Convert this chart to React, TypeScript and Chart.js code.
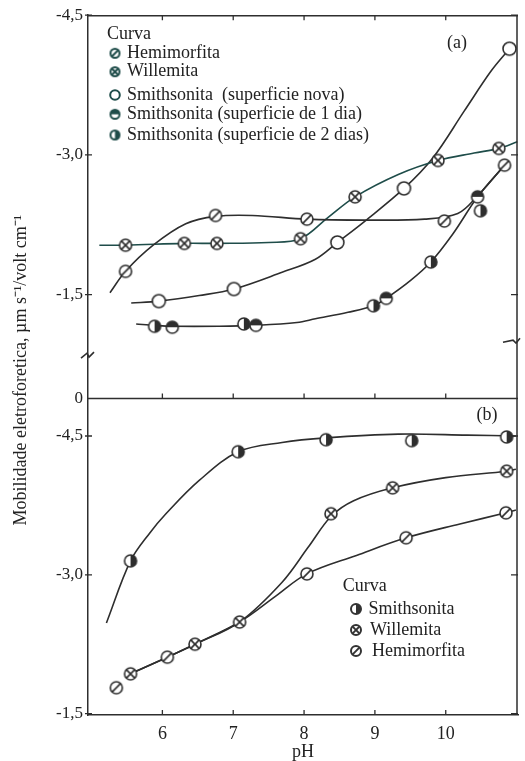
import React, { useEffect, useRef } from 'react';
import { Chart, registerables } from 'chart.js';
Chart.register(...registerables);

const FONT = '"Liberation Serif", "Times New Roman", serif';
const INK = '#222222';
const LINE = '#2e2e2e';
const TEAL = '#1f4d4a';

// ---- axes ----
const X_MIN = 4.95;
const X_MAX = 11.02;
const X_TICKS = [6, 7, 8, 9, 10];
const YA_MIN = -4.5;
const YA_MAX = -0.384; // bottom of broken panel (a), labelled "0"
const YA_TICKS = [-4.5, -3.0, -1.5];
const YB_MIN = -4.905;
const YB_MAX = -1.485;
const YB_TICKS = [-4.5, -3.0, -1.5];

// ---- panel (a) measured points ----
const aHemiPH = [5.48, 6.75, 8.04, 9.98, 10.83];
const aHemiMob = [-1.75, -2.35, -2.31, -2.29, -2.89];
const aWillPH = [5.48, 6.31, 6.77, 7.95, 8.72, 9.89, 10.75];
const aWillMob = [-2.03, -2.05, -2.05, -2.10, -2.55, -2.94, -3.07];
const aNovaPH = [5.95, 7.01, 8.47, 9.41, 10.9];
const aNovaMob = [-1.43, -1.56, -2.06, -2.64, -4.14];
const a1DiaPH = [6.14, 7.32, 9.16, 10.45];
const a1DiaMob = [-1.15, -1.17, -1.46, -2.55];
const a2DiasPH = [5.89, 7.15, 8.98, 9.79, 10.49];
const a2DiasMob = [-1.16, -1.185, -1.38, -1.85, -2.40];

// ---- panel (a) drawn curves ----
const aHemiCurvePH = [5.26, 5.48, 5.87, 6.33, 6.75, 7.27, 8.04, 8.86, 9.7, 10.17, 10.45, 10.83];
const aHemiCurveMob = [-1.52, -1.75, -2.03, -2.26, -2.34, -2.35, -2.31, -2.30, -2.31, -2.37, -2.56, -2.89];
const aWillCurvePH = [5.11, 5.48, 6.31, 6.77, 7.5, 7.95, 8.34, 8.72, 9.33, 9.89, 10.4, 10.75, 11.01];
const aWillCurveMob = [-2.03, -2.03, -2.05, -2.05, -2.06, -2.10, -2.33, -2.55, -2.79, -2.94, -3.02, -3.07, -3.14];
const aNovaCurvePH = [5.56, 5.95, 6.52, 7.01, 7.69, 8.16, 8.47, 8.86, 9.41, 9.82, 10.26, 10.64, 10.9];
const aNovaCurveMob = [-1.41, -1.43, -1.49, -1.56, -1.74, -1.88, -2.06, -2.29, -2.64, -2.97, -3.47, -3.90, -4.14];
const aAgedCurvePH = [5.63, 5.89, 6.14, 6.8, 7.32, 7.9, 8.16, 8.62, 8.98, 9.16, 9.5, 9.79, 10.1, 10.45, 10.83];
const aAgedCurveMob = [-1.185, -1.17, -1.16, -1.16, -1.17, -1.20, -1.24, -1.31, -1.38, -1.46, -1.65, -1.85, -2.15, -2.55, -2.89];

// ---- panel (b) measured points ----
const bSmithPH = [5.55, 7.07, 8.31, 9.52, 10.86];
const bSmithMob = [-3.15, -4.33, -4.46, -4.45, -4.49];
const bWillPH = [5.55, 6.46, 7.09, 8.38, 9.25, 10.86];
const bWillMob = [-1.93, -2.25, -2.49, -3.66, -3.94, -4.12];
const bHemiPH = [5.35, 6.07, 8.04, 9.44, 10.85];
const bHemiMob = [-1.78, -2.11, -3.01, -3.40, -3.67];

// ---- panel (b) drawn curves ----
const bSmithCurvePH = [5.21, 5.55, 5.82, 6.05, 6.52, 7.07, 7.69, 8.31, 9.33, 10.3, 10.99];
const bSmithCurveMob = [-2.48, -3.15, -3.45, -3.66, -4.02, -4.33, -4.43, -4.48, -4.52, -4.51, -4.50];
const bWillCurvePH = [5.55, 6.07, 6.46, 7.09, 7.69, 8.06, 8.38, 8.7, 9.25, 10.0, 10.86, 10.99];
const bWillCurveMob = [-1.93, -2.11, -2.25, -2.49, -2.92, -3.30, -3.63, -3.80, -3.94, -4.05, -4.12, -4.14];
const bHemiCurvePH = [5.55, 6.07, 6.46, 7.09, 7.6, 8.04, 8.74, 9.44, 10.2, 10.85, 10.99];
const bHemiCurveMob = [-1.93, -2.11, -2.25, -2.49, -2.77, -3.01, -3.21, -3.40, -3.55, -3.67, -3.70];

// ---- texts ----
const Y_TITLE = 'Mobilidade eletroforetica, µm s⁻¹/volt cm⁻¹';
const X_TITLE = 'pH';
const LEGEND_TITLE = 'Curva';
const LEGEND_A = [
  'Hemimorfita',
  'Willemita',
  'Smithsonita  (superficie nova)',
  'Smithsonita (superficie de 1 dia)',
  'Smithsonita (superficie de 2 dias)',
];
const LEGEND_B = ['Smithsonita', 'Willemita', 'Hemimorfita'];

type Kind = 'slash' | 'cross' | 'open' | 'top' | 'right';

function makeMarker(kind: Kind, r: number, color: string, lw: number) {
  const s = Math.ceil(2 * r + lw + 2);
  const c = document.createElement('canvas');
  c.width = s;
  c.height = s;
  const g = c.getContext('2d')!;
  const cx = s / 2;
  const cy = s / 2;
  g.beginPath();
  g.arc(cx, cy, r, 0, Math.PI * 2);
  g.fillStyle = '#ffffff';
  g.fill();
  g.fillStyle = color;
  g.strokeStyle = color;
  g.lineWidth = lw;
  if (kind === 'right') {
    g.beginPath();
    g.arc(cx, cy, r, -Math.PI / 2, Math.PI / 2);
    g.closePath();
    g.fill();
  }
  if (kind === 'top') {
    g.beginPath();
    g.arc(cx, cy, r, Math.PI, Math.PI * 2);
    g.closePath();
    g.fill();
  }
  const d = r * 0.72;
  if (kind === 'slash' || kind === 'cross') {
    g.beginPath();
    g.moveTo(cx - d, cy + d);
    g.lineTo(cx + d, cy - d);
    g.stroke();
  }
  if (kind === 'cross') {
    g.beginPath();
    g.moveTo(cx - d, cy - d);
    g.lineTo(cx + d, cy + d);
    g.stroke();
  }
  g.beginPath();
  g.arc(cx, cy, r, 0, Math.PI * 2);
  g.stroke();
  return c;
}

const pts = (xs: number[], ys: number[]) => xs.map((x, i) => ({ x, y: ys[i] }));

export default function App() {
  const ref = useRef<HTMLCanvasElement | null>(null);

  useEffect(() => {
    if (!ref.current) return;
    const mk = {
      slash: makeMarker('slash', 6, LINE, 1.6),
      cross: makeMarker('cross', 6, LINE, 1.6),
      open: makeMarker('open', 6.5, LINE, 1.6),
      top: makeMarker('top', 6, LINE, 1.6),
      right: makeMarker('right', 6, LINE, 1.6),
    };
    const lgA = [
      makeMarker('slash', 4.5, TEAL, 2),
      makeMarker('cross', 4.5, TEAL, 2),
      makeMarker('open', 4.8, TEAL, 2),
      makeMarker('top', 4.5, TEAL, 2),
      makeMarker('right', 4.5, TEAL, 2),
    ];
    const lgB = [
      makeMarker('right', 5, '#333', 2),
      makeMarker('cross', 5, '#333', 2),
      makeMarker('slash', 5, '#333', 2),
    ];

    const curve = (xs: number[], ys: number[], axis: string, color = LINE) => ({
      type: 'line' as const,
      data: pts(xs, ys),
      yAxisID: axis,
      borderColor: color,
      borderWidth: 1.6,
      pointRadius: 0,
      tension: 0.35,
      fill: false,
      order: 2,
    });
    const marks = (xs: number[], ys: number[], axis: string, img: HTMLCanvasElement) => ({
      type: 'scatter' as const,
      data: pts(xs, ys),
      yAxisID: axis,
      pointStyle: img,
      pointRadius: 6,
      showLine: false,
      order: 1,
    });

    const decor = {
      id: 'decor',
      afterDraw(chart: any) {
        const { ctx, chartArea: ca, scales } = chart;
        const x = scales.x;
        const ya = scales.ya;
        const yb = scales.yb;
        ctx.save();
        ctx.strokeStyle = LINE;
        ctx.lineWidth = 1.5;
        const mid = ya.bottom;
        ctx.beginPath();
        ctx.moveTo(ca.left, ca.top + 0.5);
        ctx.lineTo(ca.right, ca.top + 0.5);
        ctx.moveTo(ca.right - 1, ca.top);
        ctx.lineTo(ca.right - 1, ca.bottom);
        ctx.moveTo(ca.left, mid);
        ctx.lineTo(ca.right, mid);
        ctx.stroke();
        ctx.lineWidth = 1.3;
        ctx.beginPath();
        for (const v of X_TICKS) {
          const px = x.getPixelForValue(v);
          ctx.moveTo(px, ca.top);
          ctx.lineTo(px, ca.top + 5);
          ctx.moveTo(px, mid);
          ctx.lineTo(px, mid - 5);
          ctx.moveTo(px, ca.bottom);
          ctx.lineTo(px, ca.bottom - 5);
        }
        for (const v of YA_TICKS) {
          const py = ya.getPixelForValue(v);
          ctx.moveTo(ca.left - 3, py);
          ctx.lineTo(ca.left + 4, py);
          ctx.moveTo(ca.right, py);
          ctx.lineTo(ca.right - 7, py);
        }
        for (const v of YB_TICKS) {
          const py = yb.getPixelForValue(v);
          ctx.moveTo(ca.left - 3, py);
          ctx.lineTo(ca.left + 4, py);
          ctx.moveTo(ca.right, py);
          ctx.lineTo(ca.right - 7, py);
        }
        ctx.stroke();
        const bl = ya.getPixelForValue(-0.85);
        const br = ya.getPixelForValue(-1.0);
        ctx.lineWidth = 1.6;
        ctx.beginPath();
        ctx.moveTo(ca.left - 7, bl + 3);
        ctx.lineTo(ca.left - 1, bl - 2);
        ctx.lineTo(ca.left + 1, bl + 2);
        ctx.lineTo(ca.left + 6, bl - 3);
        ctx.moveTo(ca.right - 15, br + 1);
        ctx.lineTo(ca.right - 5, br - 1);
        ctx.lineTo(ca.right - 2, br + 2);
        ctx.lineTo(ca.right + 2, br - 3);
        ctx.stroke();

        ctx.fillStyle = INK;
        ctx.font = `18px ${FONT}`;
        ctx.textAlign = 'center';
        ctx.textBaseline = 'middle';
        ctx.save();
        ctx.translate(21, (ca.top + ca.bottom) / 2 + 5);
        ctx.rotate(-Math.PI / 2);
        ctx.fillText(Y_TITLE, 0, 0);
        ctx.restore();

        ctx.fillText('(a)', ca.right - 61, ca.top + 28);
        ctx.fillText('(b)', ca.right - 31, mid + 17);

        ctx.textAlign = 'left';
        ctx.fillText(LEGEND_TITLE, ca.left + 19, ca.top + 19);
        const aY = [53.3, 71.7, 95, 114.3, 135];
        LEGEND_A.forEach((t, i) => {
          const img = lgA[i];
          ctx.drawImage(img, ca.left + 27 - img.width / 2, aY[i] - img.height / 2);
          ctx.fillText(t, ca.left + 39, aY[i]);
        });
        ctx.fillText(LEGEND_TITLE, 342.7, 586.7);
        const bY = [609, 630, 651];
        const bX = [368.5, 370, 372];
        LEGEND_B.forEach((t, i) => {
          const img = lgB[i];
          ctx.drawImage(img, 356 - img.width / 2, bY[i] - img.height / 2);
          ctx.fillText(t, bX[i], bY[i]);
        });
        ctx.restore();
      },
    };

    const yCommon = {
      type: 'linear' as const,
      position: 'left' as const,
      stack: 'panels',
      reverse: true,
      grid: { display: false, drawTicks: false },
      border: { display: true, color: LINE, width: 1.5 },
      ticks: {
        font: { family: FONT, size: 17 },
        color: INK,
        padding: 5,
      },
      afterFit: (s: any) => {
        s.width = 80;
      },
    };

    const chart = new Chart(ref.current, {
      type: 'scatter',
      data: {
        datasets: [
          marks(aHemiPH, aHemiMob, 'ya', mk.slash),
          marks(aWillPH, aWillMob, 'ya', mk.cross),
          marks(aNovaPH, aNovaMob, 'ya', mk.open),
          marks(a1DiaPH, a1DiaMob, 'ya', mk.top),
          marks(a2DiasPH, a2DiasMob, 'ya', mk.right),
          marks(bSmithPH, bSmithMob, 'yb', mk.right),
          marks(bWillPH, bWillMob, 'yb', mk.cross),
          marks(bHemiPH, bHemiMob, 'yb', mk.slash),
          curve(aHemiCurvePH, aHemiCurveMob, 'ya'),
          curve(aWillCurvePH, aWillCurveMob, 'ya', TEAL),
          curve(aNovaCurvePH, aNovaCurveMob, 'ya'),
          curve(aAgedCurvePH, aAgedCurveMob, 'ya'),
          curve(bSmithCurvePH, bSmithCurveMob, 'yb'),
          curve(bWillCurvePH, bWillCurveMob, 'yb'),
          curve(bHemiCurvePH, bHemiCurveMob, 'yb'),
        ] as any,
      },
      options: {
        animation: false,
        responsive: true,
        maintainAspectRatio: false,
        layout: { padding: { left: 8, top: 14, right: 3, bottom: 0 } },
        plugins: { legend: { display: false }, tooltip: { enabled: false } },
        scales: {
          x: {
            type: 'linear',
            position: 'bottom',
            min: X_MIN,
            max: X_MAX,
            afterBuildTicks: (s: any) => {
              s.ticks = X_TICKS.map((v) => ({ value: v }));
            },
            afterFit: (s: any) => {
              s.height = 46;
            },
            grid: { display: false, drawTicks: false },
            border: { display: true, color: LINE, width: 1.5 },
            ticks: {
              font: { family: FONT, size: 18 },
              color: INK,
              padding: 8,
              callback: (v: any) => String(v),
            },
            title: {
              display: true,
              text: X_TITLE,
              font: { family: FONT, size: 18 },
              color: INK,
              padding: { top: 0, bottom: -2 },
            },
          },
          yb: {
            ...yCommon,
            stackWeight: 317,
            min: YB_MIN,
            max: YB_MAX,
            afterBuildTicks: (s: any) => {
              s.ticks = YB_TICKS.map((v) => ({ value: v }));
            },
            ticks: {
              ...yCommon.ticks,
              callback: (v: any) => Number(v).toFixed(1).replace('.', ','),
            },
          },
          ya: {
            ...yCommon,
            stackWeight: 384,
            min: YA_MIN,
            max: YA_MAX,
            afterBuildTicks: (s: any) => {
              s.ticks = [...YA_TICKS, YA_MAX].map((v) => ({ value: v }));
            },
            ticks: {
              ...yCommon.ticks,
              callback: (v: any) => (v === YA_MAX ? '0' : Number(v).toFixed(1).replace('.', ',')),
            },
          },
        } as any,
      },
      plugins: [decor],
    });
    return () => chart.destroy();
  }, []);

  return (
    <div style={{ position: 'fixed', left: 0, top: 0, width: 525, height: 761, background: '#fff' }}>
      <canvas ref={ref} />
    </div>
  );
}
